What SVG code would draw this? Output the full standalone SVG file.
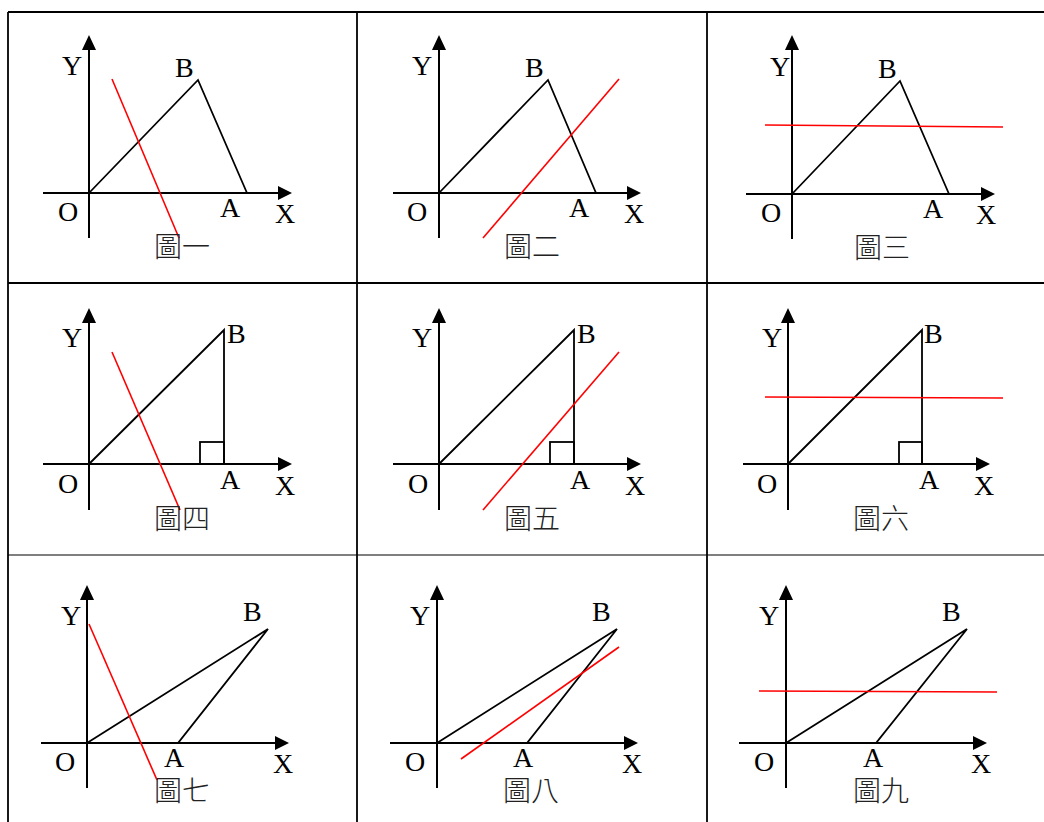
<svg xmlns="http://www.w3.org/2000/svg" width="1044" height="822" viewBox="0 0 1044 822">
<style>
.bg{fill:#fff}
.grid{stroke:#000;stroke-width:1.8;fill:none}
.ax{stroke:#000;stroke-width:2;fill:none}
.ah{fill:#000;stroke:none}
.tri{stroke:#000;stroke-width:1.8;fill:none;stroke-linejoin:miter}
.red{stroke:#f00;stroke-width:1.6;fill:none}
.lb{font-family:"Liberation Serif","Times New Roman",serif;font-size:28px;fill:#000}
.cap{font-family:"Liberation Serif","Noto Sans CJK TC",serif;font-size:28px;font-weight:300;fill:#222}
</style>
<rect class="bg" x="0" y="0" width="1044" height="822"/>
<g id="table">
<line class="grid" x1="8" y1="12" x2="1044" y2="12"/>
<line class="grid" x1="8" y1="283" x2="1044" y2="283"/>
<line class="grid" x1="8" y1="555" x2="1044" y2="555" style="stroke-width:1.2"/>
<line class="grid" x1="8" y1="12" x2="8" y2="822"/>
<line class="grid" x1="357" y1="12" x2="357" y2="822"/>
<line class="grid" x1="707" y1="12" x2="707" y2="822"/>
</g>

<g id="fig1">
<line class="ax" x1="89" y1="48" x2="89" y2="238"/><polygon class="ah" points="89,35 82,50 96,50"/>
<line class="ax" x1="43" y1="193" x2="279" y2="193"/><polygon class="ah" points="292,193 278,186 278,200"/>
<polyline class="tri" points="89,193 198,80 247,193"/>
<line class="red" x1="112" y1="79" x2="179" y2="238"/>
<text class="lb" x="62" y="75">Y</text><text class="lb" x="175" y="77">B</text>
<text class="lb" x="58" y="221">O</text><text class="lb" x="220" y="217">A</text><text class="lb" x="275" y="223">X</text>
<text class="cap" x="154" y="257">圖一</text>
</g>

<g id="fig2">
<line class="ax" x1="439" y1="48" x2="439" y2="238"/><polygon class="ah" points="439,35 432,50 446,50"/>
<line class="ax" x1="393" y1="193" x2="628" y2="193"/><polygon class="ah" points="641,193 627,186 627,200"/>
<polyline class="tri" points="439,193 548,80 596,193"/>
<line class="red" x1="483" y1="238" x2="619" y2="79"/>
<text class="lb" x="412" y="75">Y</text><text class="lb" x="525" y="77">B</text>
<text class="lb" x="407" y="221">O</text><text class="lb" x="569" y="217">A</text><text class="lb" x="624" y="223">X</text>
<text class="cap" x="504" y="257">圖二</text>
</g>

<g id="fig3">
<line class="ax" x1="792" y1="48" x2="792" y2="239"/><polygon class="ah" points="792,35 785,50 799,50"/>
<line class="ax" x1="746" y1="194" x2="982" y2="194"/><polygon class="ah" points="995,194 981,187 981,201"/>
<polyline class="tri" points="792,194 900,81 949,194"/>
<line class="red" x1="765" y1="125" x2="1003" y2="127"/>
<text class="lb" x="770" y="76">Y</text><text class="lb" x="878" y="78">B</text>
<text class="lb" x="761" y="222">O</text><text class="lb" x="923" y="218">A</text><text class="lb" x="976" y="224">X</text>
<text class="cap" x="854" y="258">圖三</text>
</g>

<g id="fig4">
<line class="ax" x1="89" y1="321" x2="89" y2="510"/><polygon class="ah" points="89,308 82,323 96,323"/>
<line class="ax" x1="43" y1="464" x2="279" y2="464"/><polygon class="ah" points="292,464 278,457 278,471"/>
<polyline class="tri" points="89,464 224,330 224,464"/>
<rect class="tri" x="200" y="442" width="24" height="22"/>
<line class="red" x1="112" y1="352" x2="180" y2="510"/>
<text class="lb" x="62" y="347">Y</text><text class="lb" x="227" y="343">B</text>
<text class="lb" x="58" y="493">O</text><text class="lb" x="220" y="489">A</text><text class="lb" x="275" y="495">X</text>
<text class="cap" x="154" y="529">圖四</text>
</g>

<g id="fig5">
<line class="ax" x1="439" y1="321" x2="439" y2="510"/><polygon class="ah" points="439,308 432,323 446,323"/>
<line class="ax" x1="393" y1="464" x2="628" y2="464"/><polygon class="ah" points="641,464 627,457 627,471"/>
<polyline class="tri" points="439,464 574,330 574,464"/>
<rect class="tri" x="550" y="442" width="24" height="22"/>
<line class="red" x1="483" y1="510" x2="619" y2="352"/>
<text class="lb" x="412" y="347">Y</text><text class="lb" x="577" y="343">B</text>
<text class="lb" x="408" y="493">O</text><text class="lb" x="570" y="489">A</text><text class="lb" x="625" y="495">X</text>
<text class="cap" x="504" y="529">圖五</text>
</g>

<g id="fig6">
<line class="ax" x1="788" y1="321" x2="788" y2="510"/><polygon class="ah" points="788,308 781,323 795,323"/>
<line class="ax" x1="743" y1="464" x2="977" y2="464"/><polygon class="ah" points="990,464 976,457 976,471"/>
<polyline class="tri" points="788,464 922,330 922,464"/>
<rect class="tri" x="899" y="442" width="23" height="22"/>
<line class="red" x1="765" y1="397" x2="1003" y2="398"/>
<text class="lb" x="762" y="347">Y</text><text class="lb" x="924" y="343">B</text>
<text class="lb" x="757" y="493">O</text><text class="lb" x="919" y="489">A</text><text class="lb" x="974" y="495">X</text>
<text class="cap" x="853" y="529">圖六</text>
</g>

<g id="fig7">
<line class="ax" x1="87" y1="598" x2="87" y2="788"/><polygon class="ah" points="87,585 80,600 94,600"/>
<line class="ax" x1="41" y1="743" x2="276" y2="743"/><polygon class="ah" points="289,743 275,736 275,750"/>
<polygon class="tri" points="87,743 268,629 178,743"/>
<line class="red" x1="89" y1="624" x2="157" y2="780"/>
<text class="lb" x="61" y="625">Y</text><text class="lb" x="243" y="621">B</text>
<text class="lb" x="55" y="771">O</text><text class="lb" x="164" y="767">A</text><text class="lb" x="273" y="773">X</text>
<text class="cap" x="154" y="801">圖七</text>
</g>

<g id="fig8">
<line class="ax" x1="437" y1="598" x2="437" y2="788"/><polygon class="ah" points="437,585 430,600 444,600"/>
<line class="ax" x1="390" y1="743" x2="625" y2="743"/><polygon class="ah" points="638,743 624,736 624,750"/>
<polygon class="tri" points="437,743 617,629 527,743"/>
<line class="red" x1="461" y1="759" x2="619" y2="647"/>
<text class="lb" x="410" y="625">Y</text><text class="lb" x="592" y="621">B</text>
<text class="lb" x="405" y="771">O</text><text class="lb" x="513" y="767">A</text><text class="lb" x="622" y="773">X</text>
<text class="cap" x="503" y="801">圖八</text>
</g>

<g id="fig9">
<line class="ax" x1="786" y1="598" x2="786" y2="788"/><polygon class="ah" points="786,585 779,600 793,600"/>
<line class="ax" x1="739" y1="743" x2="974" y2="743"/><polygon class="ah" points="987,743 973,736 973,750"/>
<polygon class="tri" points="786,743 967,629 876,743"/>
<line class="red" x1="759" y1="691" x2="997" y2="692"/>
<text class="lb" x="759" y="625">Y</text><text class="lb" x="942" y="621">B</text>
<text class="lb" x="754" y="771">O</text><text class="lb" x="863" y="767">A</text><text class="lb" x="971" y="773">X</text>
<text class="cap" x="853" y="801">圖九</text>
</g>
</svg>
